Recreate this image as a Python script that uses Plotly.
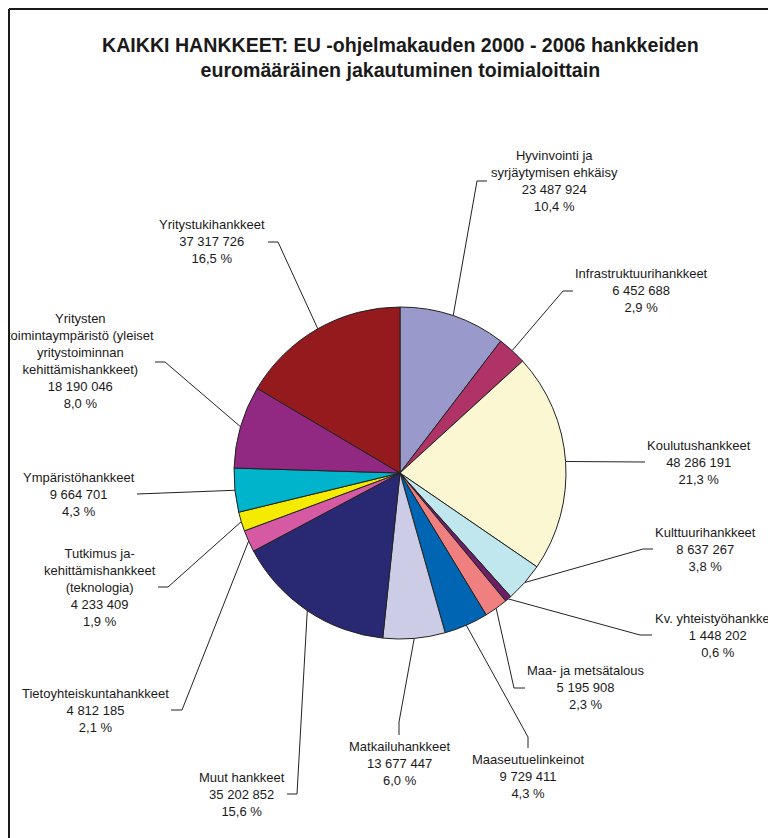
import math
import plotly.graph_objects as go

# ---------------- data ----------------
categories = [
    "Hyvinvointi ja<br>syrjäytymisen ehkäisy",
    "Infrastruktuurihankkeet",
    "Koulutushankkeet",
    "Kulttuurihankkeet",
    "Kv. yhteistyöhankkeet",
    "Maa- ja metsätalous",
    "Maaseutuelinkeinot",
    "Matkailuhankkeet",
    "Muut hankkeet",
    "Tietoyhteiskuntahankkeet",
    "Tutkimus ja-<br>kehittämishankkeet<br>(teknologia)",
    "Ympäristöhankkeet",
    "Yritysten<br>toimintaympäristö (yleiset<br>yritystoiminnan<br>kehittämishankkeet)",
    "Yritystukihankkeet",
]
values = [23487924, 6452688, 48286191, 8637267, 1448202, 5195908, 9729411,
          13677447, 35202852, 4812185, 4233409, 9664701, 18190046, 37317726]
colors = ["#9999CC", "#AF3366", "#FAF7D2", "#C0E6EE", "#6B1F66", "#F08080",
          "#0066B3", "#CCCCE6", "#282873", "#D65AA3", "#F5EB00", "#00B4CC",
          "#912882", "#951A1E"]
title_text = ("KAIKKI HANKKEET: EU -ohjelmakauden 2000 - 2006 hankkeiden<br>"
              "euromääräinen jakautuminen toimialoittain")

# ---------------- layout (screen pixels) ----------------
PAGE_OFF = 8                      # default body margin of the html page
SW, SH = 776, 838                 # browser window
W, H = SW - PAGE_OFF, SH - PAGE_OFF   # figure size
CX, CY, R = 400, 473, 166         # pie centre / radius on screen
# label text centre (x, y), leader elbow (x, y), leader end (x, y)
label_center = [(554, 180.5), (641, 290.5), (699, 462), (705, 549), (718, 635),
                (586, 687), (528, 776), (400, 763), (242, 794), (95, 710),
                (100, 587), (79, 494), (80, 361), (212, 241)]
leader_elbow = [(477, 181), (563, 291), (645, 462), (643, 549), (640, 635),
                (514, 688), (528, 737), (399, 722), (297, 794), (182, 710),
                (168, 587), (137, 494), (165, 362), (278, 242)]
leader_end = [(487, 181), (573, 291), (645, 462), (653, 549), (652, 635),
              (525, 688), (528, 748), (399, 735), (287, 794), (171, 710),
              (158, 587), (137, 494), (155, 362), (268, 242)]
FONT = "Liberation Sans, Arial, sans-serif"
TXT = "#1a1a1a"

total = sum(values)


def fmt_num(v):
    return f"{v:,}".replace(",", " ")


def fmt_pct(v):
    return f"{100 * v / total:.1f}".replace(".", ",") + " %"


fig = go.Figure()

fcx, fcy = CX - PAGE_OFF, CY - PAGE_OFF
fig.add_trace(go.Pie(
    labels=[c.replace("<br>", " ") for c in categories],
    values=values,
    sort=False,
    direction="clockwise",
    rotation=0,
    marker=dict(colors=colors, line=dict(color="#222222", width=1)),
    textinfo="none",
    hoverinfo="skip",
    showlegend=False,
    domain=dict(x=[(fcx - R) / W, (fcx + R) / W],
                y=[(H - fcy - R) / H, (H - fcy + R) / H]),
))

# leader lines + labels
cum = 0
annotations = []
for i, v in enumerate(values):
    mid = (cum + v / 2) / total
    cum += v
    ang = 2 * math.pi * mid
    ex = CX + R * math.sin(ang)
    ey = CY - R * math.cos(ang)
    (bx, by), (nx, ny) = leader_elbow[i], leader_end[i]
    fig.add_trace(go.Scatter(
        x=[ex, bx, nx], y=[ey, by, ny], mode="lines",
        line=dict(color="#222222", width=1),
        hoverinfo="skip", showlegend=False, xaxis="x", yaxis="y"))
    tx, ty = label_center[i]
    annotations.append(dict(
        x=tx, y=ty, xref="x", yref="y", xanchor="center", yanchor="middle",
        text=f"{categories[i]}<br>{fmt_num(v)}<br>{fmt_pct(v)}",
        showarrow=False, align="center",
        font=dict(family=FONT, size=13, color=TXT)))

annotations.append(dict(
    x=400, y=57.5, xref="x", yref="y", xanchor="center", yanchor="middle",
    text=f"<b>{title_text}</b>", showarrow=False, align="center",
    font=dict(family=FONT, size=19.6, color=TXT)))

fig.update_layout(
    width=W, height=H, autosize=False,
    margin=dict(l=0, r=0, t=0, b=0),
    paper_bgcolor="white", plot_bgcolor="rgba(0,0,0,0)",
    xaxis=dict(range=[PAGE_OFF, SW], visible=False, fixedrange=True),
    yaxis=dict(range=[SH, PAGE_OFF], visible=False, fixedrange=True),
    annotations=annotations,
    shapes=[
        dict(type="line", xref="x", yref="y", x0=9, y0=9, x1=9, y1=SH,
             line=dict(color="#1a1a1a", width=2)),
        dict(type="line", xref="x", yref="y", x0=9, y0=9, x1=SW, y1=9,
             line=dict(color="#1a1a1a", width=2)),
    ],
)

fig.write_html("out.html")
